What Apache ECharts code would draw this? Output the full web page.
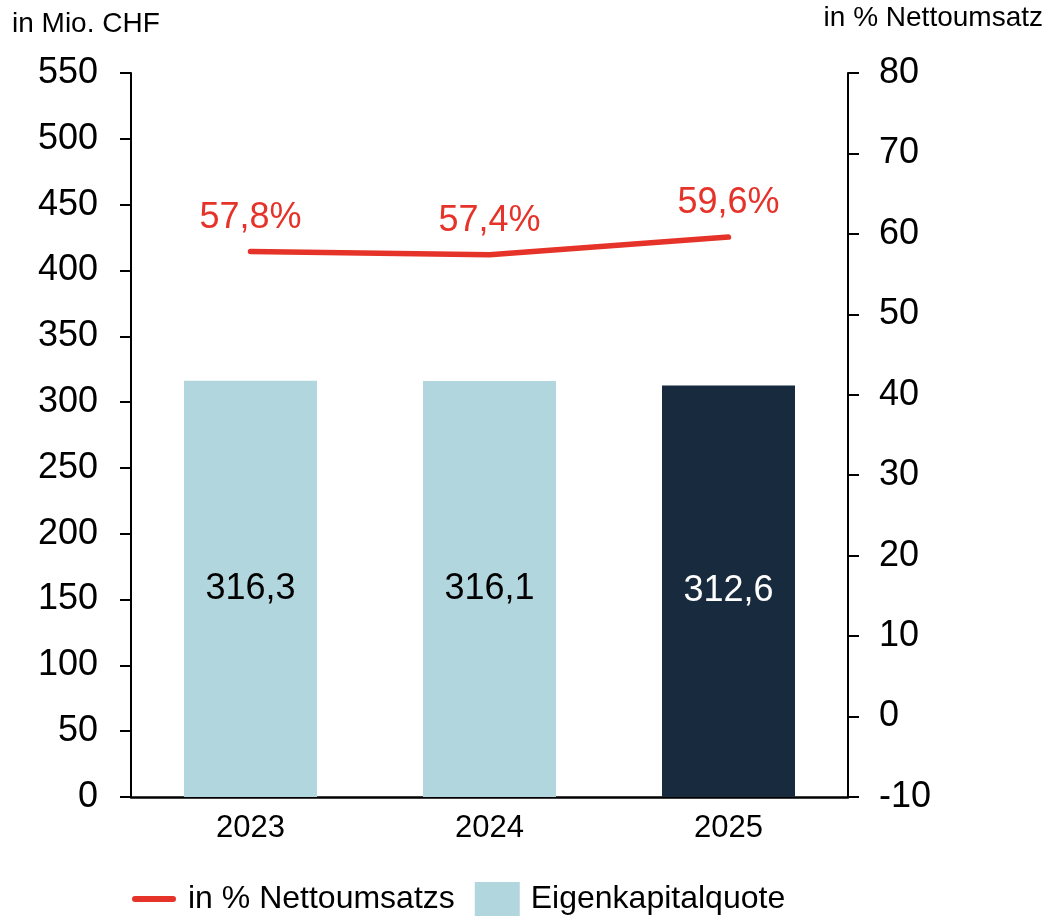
<!DOCTYPE html>
<html>
<head>
<meta charset="utf-8">
<script src="https://cdn.jsdelivr.net/npm/echarts@6/dist/echarts.min.js"></script>
<style>
html,body{margin:0;padding:0;background:#fff;}
#chart{width:1050px;height:921px;}
</style>
</head>
<body>
<div id="chart"></div>
<script>
const categories = ['2023', '2024', '2025'];
const equityValues = [316.3, 316.1, 312.6];
const ratioValues = [57.8, 57.4, 59.6];
const barSeriesName = 'Eigenkapitalquote';
const lineSeriesName = 'in % Nettoumsatzs';
const leftAxisTitle = 'in Mio. CHF';
const rightAxisTitle = 'in % Nettoumsatz';

const FONT = '"Liberation Sans", Arial, sans-serif';
const lightBar = '#b2d6de';
const darkBar = '#172a3e';
const red = '#e63329';
const fmt = v => v.toFixed(1).replace('.', ',');

const chart = echarts.init(document.getElementById('chart'));
chart.setOption({
  animation: false,
  textStyle: { fontFamily: FONT },
  grid: { left: 131, right: 202, top: 73, bottom: 124, containLabel: false },
  graphic: [
    { type: 'text', left: 12, top: 10, style: { text: leftAxisTitle, font: '28px ' + FONT, fill: '#000' } },
    { type: 'text', right: 7, top: 4, style: { text: rightAxisTitle, font: '28px ' + FONT, fill: '#000' } }
  ],
  legend: {
    left: 132, top: 882, padding: 0,
    itemWidth: 45, itemHeight: 34, itemGap: 20,
    textStyle: { fontSize: 32, color: '#000', fontFamily: FONT, padding: [0,0,0,6] },
    data: [
      { name: lineSeriesName, icon: 'path://M0,0 M45,34 M3,14 L41,14 A3,3 0 0 1 41,20 L3,20 A3,3 0 0 1 3,14 Z', itemStyle: { color: red } },
      { name: barSeriesName, icon: 'rect', itemStyle: { color: lightBar } }
    ]
  },
  xAxis: {
    type: 'category',
    data: categories,
    axisLine: { lineStyle: { color: '#000', width: 2.5 } },
    axisTick: { show: false },
    axisLabel: { fontSize: 31, color: '#000', margin: 16, fontFamily: FONT }
  },
  yAxis: [
    {
      type: 'value', min: 0, max: 550, interval: 50,
      axisLine: { show: true, lineStyle: { color: '#000', width: 2 } },
      axisTick: { show: true, inside: false, length: 11, lineStyle: { color: '#000', width: 2 } },
      splitLine: { show: false },
      axisLabel: { fontSize: 36, color: '#000', margin: 33, fontFamily: FONT }
    },
    {
      type: 'value', min: -10, max: 80, interval: 10, position: 'right',
      axisLine: { show: true, lineStyle: { color: '#000', width: 2 } },
      axisTick: { show: true, inside: false, length: 11, lineStyle: { color: '#000', width: 2 } },
      splitLine: { show: false },
      axisLabel: { fontSize: 36, color: '#000', margin: 31, fontFamily: FONT }
    }
  ],
  series: [
    {
      name: barSeriesName,
      type: 'bar',
      yAxisIndex: 0,
      barWidth: 133,
      data: equityValues.map((v, i) => ({
        value: v,
        itemStyle: { color: i === equityValues.length - 1 ? darkBar : lightBar },
        label: { color: i === equityValues.length - 1 ? '#fff' : '#000' }
      })),
      label: {
        show: true, position: 'inside', fontSize: 36, fontFamily: FONT,
        formatter: p => fmt(p.value)
      }
    },
    {
      name: lineSeriesName,
      type: 'line',
      yAxisIndex: 1,
      data: ratioValues,
      showSymbol: true,
      symbol: 'circle',
      symbolSize: 0.01,
      lineStyle: { color: red, width: 5.5, cap: 'round', join: 'round' },
      itemStyle: { color: red },
      label: {
        show: true, position: 'top', distance: 16, fontSize: 36, color: red, fontFamily: FONT,
        formatter: p => fmt(p.value) + '%'
      },
      z: 5
    }
  ]
});
</script>
</body>
</html>
